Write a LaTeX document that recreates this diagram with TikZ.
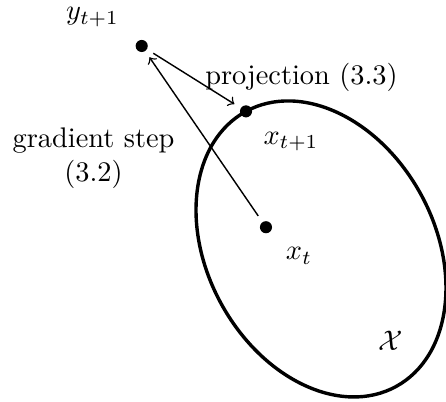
\documentclass[tikz,border=0pt]{standalone}
\usetikzlibrary{calc}
\tikzset{dot/.style={circle,fill,inner sep=0pt,minimum size=0.15cm}}

\begin{document}
\begin{tikzpicture}
\useasboundingbox (0,0) rectangle (5.527,4.981);
% Menge X
\coordinate (mid) at (3.978,1.896);
\draw[very thick,rotate around={28.6:(mid)}] (mid) ellipse (1.411 and 1.942);
\node (set) at (4.845,0.756) {$\mathcal{X}$};
% Punkte
\node[dot] (yn) at (1.756,4.411) {};
\node[dot] (xn) at ($(mid)+(118.6:1.942)$) {};
\node[dot] (xt) at (3.296,2.165) {};
\node[inner sep=1pt] (ynlab) at (1.146,4.77) {$y_{t+1}$};
\node (xnlab) at (3.606,3.222) {$x_{t+1}$};
\node (xtlab) at (3.705,1.809) {$x_t$};
% Schritte
\draw[->,line width=0.5pt,shorten <=2.5pt,shorten >=2.5pt] (xt) -- (yn);
\draw[->,line width=0.5pt,shorten <=2.5pt,shorten >=2.5pt] (yn) -- (xn);
\node[align=center] (grad) at (1.159,3.024) {gradient step\\(3.2)};
\node (proj) at (3.736,4.027) {projection (3.3)};
\end{tikzpicture}
\end{document}
